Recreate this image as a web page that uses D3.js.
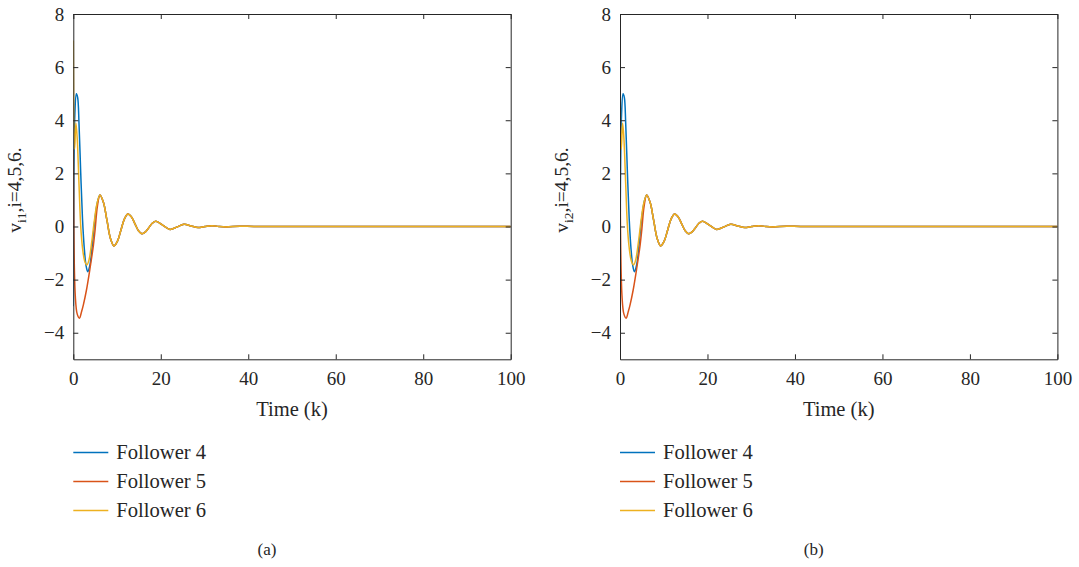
<!DOCTYPE html>
<html><head><meta charset="utf-8">
<script src="https://cdn.jsdelivr.net/npm/d3@7"></script>
<style>
body{margin:0;background:#fff;}
svg text{font-family:"Liberation Serif","DejaVu Serif",serif !important;fill:#262626;}
</style></head>
<body><svg id="c" width="1079" height="567"></svg>
<script>
// ---- data ----
const xTicks = [0, 20, 40, 60, 80, 100];
const yTicks = [-4, -2, 0, 2, 4, 6, 8];
const seriesNames = ["Follower 4", "Follower 5", "Follower 6"];
const seriesColors = ["#0072BD", "#D95319", "#EDB120"];
const panelLabels = ["(a)", "(b)"];
const yLabelSubs = ["i1", "i2"];

// early transient of each follower (time, value)
const tHead4 = [0, 0.35, 0.7, 1.0, 1.3, 1.7, 2.1, 2.5, 2.9, 3.3, 3.8, 4.4, 5.0, 5.5];
const vHead4 = [-3.0, 4.2, 5.0, 4.85, 3.9, 2.0, 0.3, -0.8, -1.45, -1.7, -1.45, -0.6, 0.35, 0.9];
const tHead5 = [0, 0.45, 0.9, 1.4, 1.9, 2.3, 3.0, 3.8, 4.6, 5.0, 5.5];
const vHead5 = [2.9, -2.6, -3.3, -3.45, -3.2, -2.95, -2.4, -1.6, -0.7, -0.1, 0.75];
const tHead6 = [0, 0.3, 0.6, 0.9, 1.3, 1.7, 2.1, 2.6, 3.1, 3.6, 4.2, 4.8, 5.4];
const vHead6 = [7.0, 2.9, 3.9, 3.3, 1.6, 0.0, -0.8, -1.3, -1.45, -1.25, -0.6, 0.2, 0.85];
// common damped oscillation shared by all followers afterwards
const tTail = [6.1, 6.9, 7.7, 8.5, 9.3, 10.1, 10.9, 11.7, 12.5, 13.3, 14.1, 14.9, 15.7, 16.5, 17.3, 18.1, 18.9,
               20.5, 22.1, 23.7, 25.3, 26.9, 28.5, 30.1, 31.7, 33.3, 34.9, 38.1, 41.3, 50, 60, 70, 80, 90, 100];
const vTail = [1.19, 0.9, 0.23, -0.45, -0.73, -0.55, -0.13, 0.29, 0.47, 0.36, 0.1, -0.16, -0.27, -0.2, -0.035, 0.13, 0.2,
               0.04, -0.11, -0.02, 0.08, 0.02, -0.04, 0.0, 0.03, 0.0, -0.015, 0.01, 0, 0, 0, 0, 0, 0, 0];
const heads = [[tHead4, vHead4], [tHead5, vHead5], [tHead6, vHead6]];

// ---- drawing ----
const svg = d3.select("#c");
const panelsX = [73.3, 620];
const plotW = 437.4, plotTop = 14, plotBottom = 359.3;
const ink = "#262626";
const serif = '"Liberation Serif","DejaVu Serif",serif';

function seriesPoints(i){
  const [t, v] = heads[i];
  const pts = t.map((d, j) => [d, v[j]]);
  return pts.concat(tTail.map((d, j) => [d, vTail[j]]));
}

panelsX.forEach((px, p) => {
  const x = d3.scaleLinear().domain([0, 100]).range([px, px + plotW]);
  const y = d3.scaleLinear().domain([-5, 8]).range([plotBottom, plotTop]);
  const g = svg.append("g").attr("font-family", serif);

  const line = d3.line().x(d => x(d[0])).y(d => y(d[1])).curve(d3.curveCatmullRom.alpha(0.5));
  const clipId = "clip" + p;
  svg.append("clipPath").attr("id", clipId).append("rect")
    .attr("x", px).attr("y", plotTop).attr("width", plotW).attr("height", plotBottom - plotTop);
  seriesNames.forEach((n, i) => {
    g.append("path").datum(seriesPoints(i)).attr("d", line)
      .attr("clip-path", `url(#${clipId})`)
      .attr("fill", "none").attr("stroke", seriesColors[i]).attr("stroke-width", 1.5)
      .attr("stroke-linejoin", "round");
  });

  const ax = (axis, tr) => {
    const a = g.append("g").attr("transform", tr).call(axis).attr("font-family", serif).attr("font-size", 19);
    a.select(".domain").attr("stroke", ink).attr("stroke-width", 1);
    a.selectAll(".tick line").attr("stroke", ink).attr("stroke-width", 1);
    a.selectAll("text").attr("fill", ink);
    return a;
  };
  ax(d3.axisBottom(x).tickValues(xTicks).tickSizeInner(-5).tickSizeOuter(0).tickPadding(12.5), `translate(0,${plotBottom})`);
  ax(d3.axisTop(x).tickValues(xTicks).tickSizeInner(-5).tickSizeOuter(0).tickFormat(""), `translate(0,${plotTop})`);
  ax(d3.axisLeft(y).tickValues(yTicks).tickSizeInner(-5).tickSizeOuter(0).tickPadding(9)
     .tickFormat(d => d < 0 ? "\u2212" + Math.abs(d) : d), `translate(${px},0)`);
  ax(d3.axisRight(y).tickValues(yTicks).tickSizeInner(-5).tickSizeOuter(0).tickFormat(""), `translate(${px + plotW},0)`);

  g.append("text").attr("x", px + plotW / 2).attr("y", 416).attr("text-anchor", "middle")
    .attr("font-size", 20.5).text("Time (k)");
  const yl = g.append("text").attr("transform", `translate(${px - 52},190) rotate(-90)`)
    .attr("text-anchor", "middle").attr("font-size", 19.5);
  yl.append("tspan").text("v");
  yl.append("tspan").attr("dy", 5).attr("font-size", 13.5).text(yLabelSubs[p]);
  yl.append("tspan").attr("dy", -5).text(",i=4,5,6.");

  seriesNames.forEach((n, i) => {
    const ly = 452.5 + i * 29;
    g.append("line").attr("x1", px).attr("x2", px + 35).attr("y1", ly).attr("y2", ly)
      .attr("stroke", seriesColors[i]).attr("stroke-width", 1.5);
    g.append("text").attr("x", px + 43).attr("y", ly + 6).attr("font-size", 20.6).text(n);
  });

  g.append("text").attr("x", px + plotW / 2 - 25).attr("y", 555).attr("text-anchor", "middle")
    .attr("font-size", 17).text(panelLabels[p]);
});
</script></body></html>
